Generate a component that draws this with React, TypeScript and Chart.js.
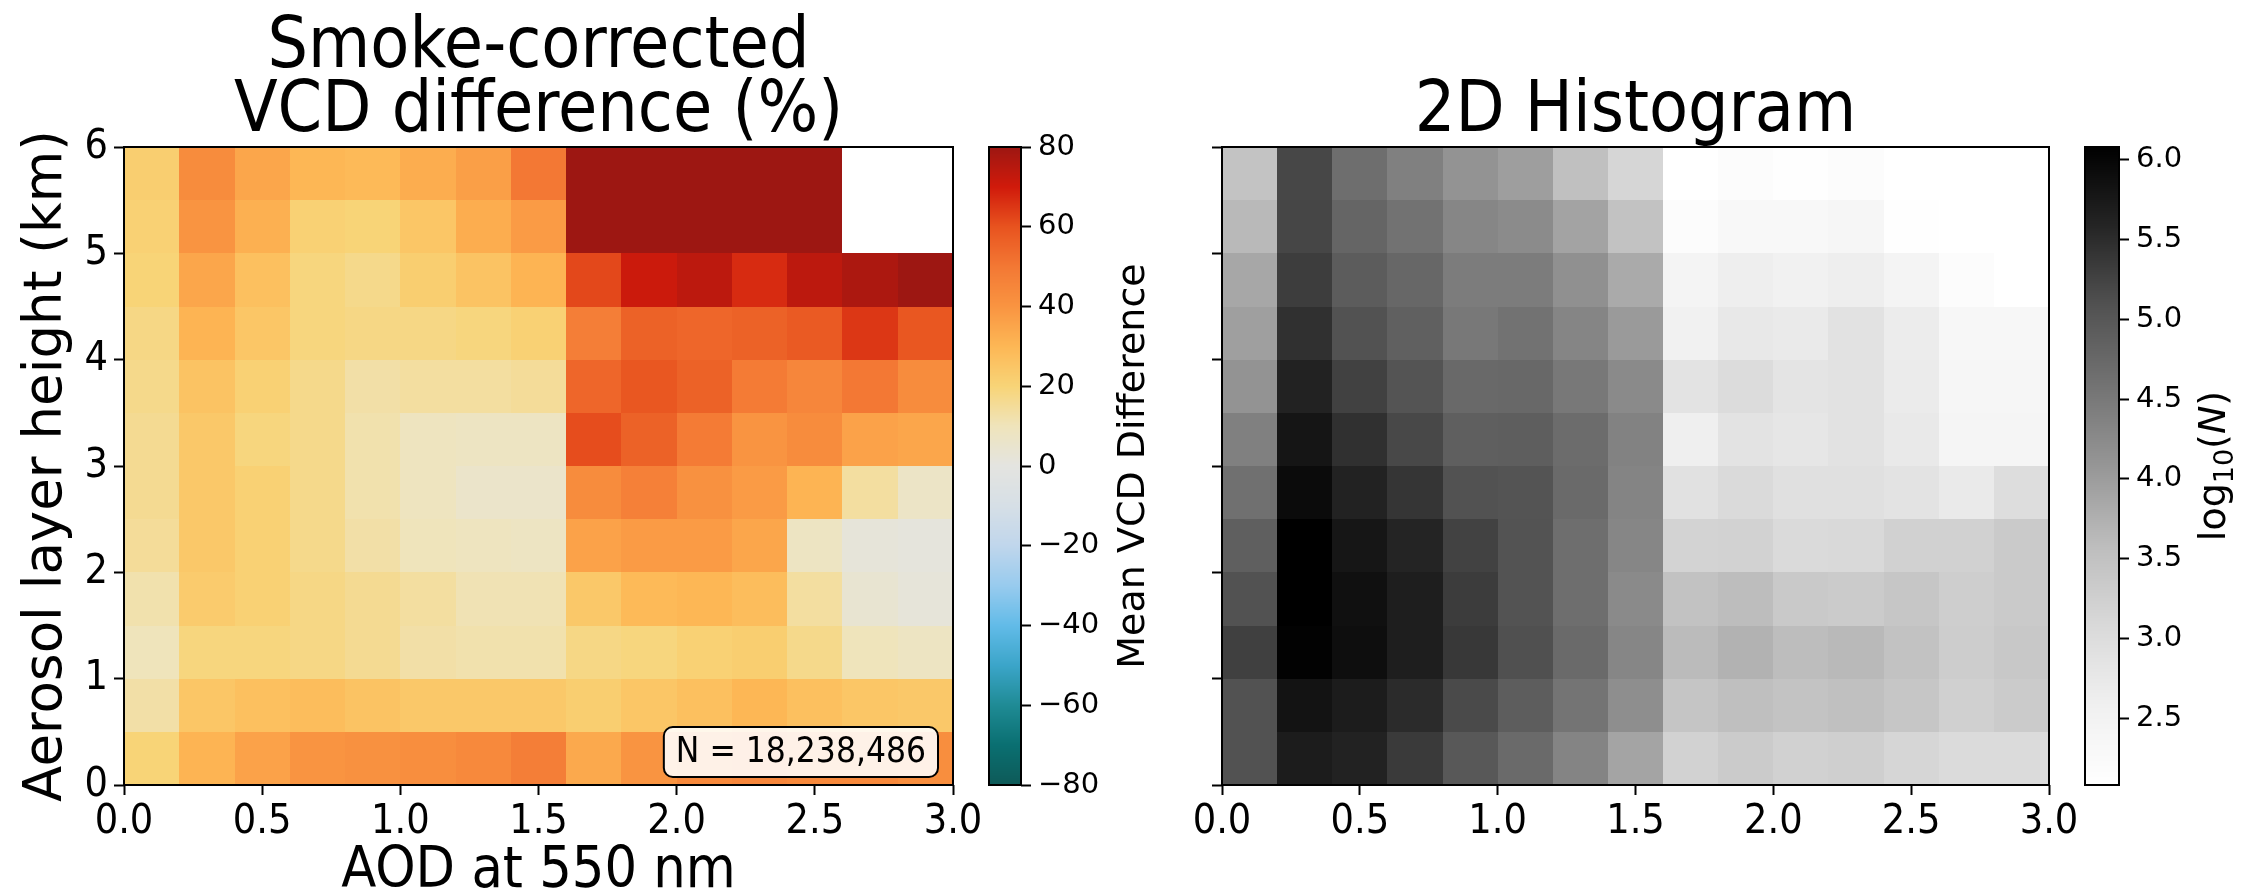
import React, { useEffect, useRef } from 'react';
import { Chart, registerables } from 'chart.js';

Chart.register(...registerables);

// ---------------- data ----------------
const X_EDGES = [0, 0.2, 0.4, 0.6, 0.8, 1.0, 1.2, 1.4, 1.6, 1.8, 2.0, 2.2, 2.4, 2.6, 2.8, 3.0];
const Y_EDGES = [0, 0.5, 1, 1.5, 2, 2.5, 3, 3.5, 4, 4.5, 5, 5.5, 6];
const X_TICKS = [0, 0.5, 1, 1.5, 2, 2.5, 3];
const Y_TICKS = [0, 1, 2, 3, 4, 5, 6];

// rows: bottom (0-0.5 km) to top (5.5-6 km); columns: AOD bins 0-0.2 ... 2.8-3.0
const VCD_DIFF: (number | null)[][] = [
  [20, 31, 36, 40, 41, 42, 44, 48, 34, 40, 44, 45, 44, 44, 42],
  [13, 25, 27, 28, 26, 24, 24, 24, 22, 25, 27, 30, 27, 25, 24],
  [10, 19, 19, 18, 16, 13, 12, 12, 18, 19, 21, 22, 17, 10, 8],
  [12, 23, 21, 18, 16, 14, 11, 11, 24, 29, 30, 28, 14, 4, 2],
  [15, 24, 21, 17, 13, 10, 9, 8, 36, 38, 38, 35, 8, 2, 1],
  [16, 24, 21, 17, 12, 9, 6, 6, 43, 47, 41, 38, 31, 14, 7],
  [16, 24, 19, 17, 12, 9, 8, 8, 61, 56, 49, 40, 43, 36, 35],
  [17, 26, 21, 17, 13, 14, 14, 15, 55, 59, 56, 49, 45, 50, 43],
  [18, 31, 25, 19, 18, 18, 19, 21, 48, 56, 55, 56, 58, 65, 59],
  [20, 35, 27, 19, 17, 22, 26, 31, 62, 71, 74, 67, 74, 77, 80],
  [21, 40, 32, 21, 20, 25, 33, 38, 86, 88, 87, 86, 87, null, null],
  [22, 43, 35, 30, 29, 33, 37, 50, 87, 88, 88, 87, 86, null, null],
];

const LOG10_N: (number | null)[][] = [
  [5.08, 5.70, 5.62, 5.35, 4.99, 4.72, 4.34, 3.90, 3.21, 3.33, 3.22, 3.26, 3.13, 3.03, 3.04],
  [5.08, 5.82, 5.70, 5.51, 5.17, 4.91, 4.57, 4.19, 3.44, 3.55, 3.47, 3.53, 3.42, 3.24, 3.33],
  [5.28, 6.05, 5.89, 5.67, 5.37, 5.10, 4.72, 4.31, 3.61, 3.72, 3.58, 3.63, 3.49, 3.29, 3.39],
  [5.08, 6.08, 5.86, 5.67, 5.32, 5.07, 4.66, 4.25, 3.49, 3.58, 3.37, 3.33, 3.42, 3.28, 3.35],
  [4.88, 6.08, 5.78, 5.59, 5.26, 5.07, 4.66, 4.31, 3.19, 3.21, 3.06, 3.08, 3.22, 3.22, 3.35],
  [4.63, 5.93, 5.62, 5.40, 5.08, 5.05, 4.72, 4.34, 2.91, 3.06, 2.93, 2.93, 2.86, 2.71, 2.99],
  [4.39, 5.80, 5.46, 5.19, 4.88, 4.90, 4.69, 4.37, 2.60, 2.86, 2.80, 2.88, 2.73, 2.41, 2.41],
  [4.12, 5.62, 5.27, 5.05, 4.73, 4.75, 4.51, 4.25, 2.86, 3.01, 2.84, 2.88, 2.69, 2.38, 2.38],
  [3.96, 5.46, 5.08, 4.87, 4.51, 4.60, 4.32, 4.03, 2.55, 2.75, 2.71, 2.88, 2.67, 2.35, 2.35],
  [3.86, 5.31, 4.93, 4.76, 4.45, 4.45, 4.17, 3.82, 2.45, 2.62, 2.55, 2.62, 2.45, 2.18, 2.08],
  [3.63, 5.21, 4.79, 4.59, 4.31, 4.24, 3.91, 3.49, 2.18, 2.31, 2.31, 2.38, 2.11, null, null],
  [3.47, 5.20, 4.66, 4.39, 4.12, 3.98, 3.53, 3.13, 2.08, 2.18, 2.11, 2.18, 2.08, null, null],
];

const DIFF_TICKS = [-80, -60, -40, -20, 0, 20, 40, 60, 80];
const DIFF_RANGE = [-80, 80];
const COUNT_TICKS = [2.5, 3.0, 3.5, 4.0, 4.5, 5.0, 5.5, 6.0];
const COUNT_RANGE = [2.08, 6.08];
const N_LABEL = 'N = 18,238,486';

const TITLE_LEFT = ['Smoke-corrected', 'VCD difference (%)'];
const TITLE_RIGHT = '2D Histogram';
const X_LABEL = 'AOD at 550 nm';
const Y_LABEL = 'Aerosol layer height (km)';
const CBAR_LEFT_LABEL = 'Mean VCD Difference';

// ---------------- colormaps ----------------
const DIFF_CMAP_VALUES = [-80, -70, -60, -50, -40, -30, -20, -10, 0, 10, 20, 30, 40, 50, 60, 70, 80];
const DIFF_CMAP_COLORS = [
  '#0e5a58', '#0a6f71', '#1f8b95', '#3ba5c9', '#62bbe8', '#98cbee', '#c0d6ec', '#d6dfe6',
  '#e4e4e0', '#efe4bb', '#f8d477', '#fdb755', '#f99441', '#f37834', '#e8531f', '#d01a0b', '#9d1712',
];
const GREYS_LEVELS = [255, 240, 217, 189, 150, 115, 82, 37, 0];

const COND = "'DejaVu Sans Condensed', 'Liberation Sans Narrow', 'DejaVu Sans', sans-serif";
const SANS = "'DejaVu Sans', 'Noto Sans', sans-serif";

function hexToRgb(h: string) {
  const n = parseInt(h.slice(1), 16);
  return [(n >> 16) & 255, (n >> 8) & 255, n & 255];
}
const DIFF_RGB = DIFF_CMAP_COLORS.map(hexToRgb);

function diffColor(v: number) {
  const vals = DIFF_CMAP_VALUES;
  if (v <= vals[0]) return `rgb(${DIFF_RGB[0].join(',')})`;
  if (v >= vals[vals.length - 1]) return `rgb(${DIFF_RGB[vals.length - 1].join(',')})`;
  let i = 0;
  while (v > vals[i + 1]) i++;
  const t = (v - vals[i]) / (vals[i + 1] - vals[i]);
  const a = DIFF_RGB[i], b = DIFF_RGB[i + 1];
  const c = a.map((av, k) => Math.round(av + (b[k] - av) * t));
  return `rgb(${c.join(',')})`;
}

function greyColor(v: number) {
  let t = (v - COUNT_RANGE[0]) / (COUNT_RANGE[1] - COUNT_RANGE[0]);
  t = Math.max(0, Math.min(1, t));
  const pos = t * (GREYS_LEVELS.length - 1);
  const i = Math.min(Math.floor(pos), GREYS_LEVELS.length - 2);
  const f = pos - i;
  const g = Math.round(GREYS_LEVELS[i] + (GREYS_LEVELS[i + 1] - GREYS_LEVELS[i]) * f);
  return `rgb(${g},${g},${g})`;
}

function buildCells(rows: (number | null)[][]) {
  const cells: any[] = [];
  rows.forEach((row, j) =>
    row.forEach((v, i) => {
      if (v === null) return;
      cells.push({
        x: (X_EDGES[i] + X_EDGES[i + 1]) / 2,
        y: (Y_EDGES[j] + Y_EDGES[j + 1]) / 2,
        x0: X_EDGES[i], x1: X_EDGES[i + 1], y0: Y_EDGES[j], y1: Y_EDGES[j + 1], v,
      });
    })
  );
  return cells;
}

function heatmapPlugin(colorFn: (v: number) => string, extra?: (chart: any) => void) {
  return {
    id: 'heatCells',
    beforeDatasetsDraw(chart: any) {
      const { ctx, scales: { x, y } } = chart;
      const cells = chart.data.datasets[0].data;
      ctx.save();
      cells.forEach((c: any) => {
        const px0 = Math.round(x.getPixelForValue(c.x0));
        const px1 = Math.round(x.getPixelForValue(c.x1));
        const py0 = Math.round(y.getPixelForValue(c.y0));
        const py1 = Math.round(y.getPixelForValue(c.y1));
        ctx.fillStyle = colorFn(c.v);
        ctx.fillRect(px0, py1, px1 - px0, py0 - py1);
      });
      ctx.restore();
    },
    afterDatasetsDraw(chart: any) {
      const { ctx, chartArea: a } = chart;
      ctx.save();
      ctx.strokeStyle = '#000';
      ctx.lineWidth = 2;
      ctx.strokeRect(a.left, a.top, a.right - a.left, a.bottom - a.top);
      ctx.restore();
      if (extra) extra(chart);
    },
  };
}

function drawNBox(chart: any) {
  const { ctx, chartArea: a } = chart;
  ctx.save();
  ctx.font = `35px ${COND}`;
  const tw = ctx.measureText(N_LABEL).width;
  const padX = 12;
  const h = 50;
  const w = tw + padX * 2;
  const right = a.right - 15;
  const bottom = a.bottom - 8;
  ctx.beginPath();
  ctx.roundRect(right - w, bottom - h, w, h, 9);
  ctx.fillStyle = 'rgba(255,255,255,0.88)';
  ctx.fill();
  ctx.lineWidth = 2;
  ctx.strokeStyle = '#000';
  ctx.stroke();
  ctx.fillStyle = '#000';
  ctx.textAlign = 'center';
  ctx.textBaseline = 'middle';
  ctx.fillText(N_LABEL, right - w / 2, bottom - h / 2 + 1);
  ctx.restore();
}

const tickGrid = {
  display: true,
  drawOnChartArea: false,
  drawTicks: true,
  tickLength: 10,
  tickWidth: 2,
  tickColor: '#000',
};

function makeHeatmap(canvas: HTMLCanvasElement, cfg: any) {
  return new Chart(canvas, {
    type: 'scatter',
    data: { datasets: [{ data: cfg.cells, pointRadius: 0, pointHoverRadius: 0 }] },
    options: {
      responsive: false,
      animation: false,
      devicePixelRatio: 1,
      events: [],
      layout: { padding: { left: 0, right: cfg.padRight, top: 0, bottom: 0 } },
      plugins: {
        legend: { display: false },
        tooltip: { enabled: false },
        title: {
          display: true,
          text: cfg.title,
          fullSize: false,
          color: '#000',
          font: { family: COND, size: 71, weight: 'normal', lineHeight: '64px' },
          padding: { top: cfg.titlePadTop, bottom: 2 },
        },
      },
      scales: {
        x: {
          type: 'linear',
          min: 0,
          max: 3,
          afterBuildTicks: (s: any) => { s.ticks = X_TICKS.map((v) => ({ value: v })); },
          afterFit: (s: any) => { s.height = 110; },
          grid: tickGrid,
          border: { display: false },
          ticks: {
            color: '#000',
            font: { family: COND, size: 41 },
            padding: 3,
            maxRotation: 0,
            autoSkip: false,
            callback: (v: any) => Number(v).toFixed(1),
          },
          title: {
            display: !!cfg.xTitle,
            text: cfg.xTitle || '',
            color: '#000',
            font: { family: COND, size: 57, lineHeight: 0.8 },
            padding: { top: 0, bottom: 0 },
          },
        },
        y: {
          type: 'linear',
          min: 0,
          max: 6,
          afterBuildTicks: (s: any) => { s.ticks = Y_TICKS.map((v) => ({ value: v })); },
          afterFit: (s: any) => { s.width = cfg.yWidth; },
          grid: tickGrid,
          border: { display: false },
          ticks: {
            display: cfg.showYLabels,
            color: '#000',
            font: { family: COND, size: 41 },
            padding: 6,
            autoSkip: false,
            callback: (v: any) => String(v),
          },
          title: {
            display: !!cfg.yTitle,
            text: cfg.yTitle || '',
            color: '#000',
            font: { family: SANS, size: 53, lineHeight: 1 },
            padding: { top: 21, bottom: 0 },
          },
        },
      },
    },
    plugins: [heatmapPlugin(cfg.colorFn, cfg.extra)],
  } as any);
}

function drawRotated(ctx: CanvasRenderingContext2D, cx: number, cy: number, fn: () => void) {
  ctx.save();
  ctx.translate(cx, cy);
  ctx.rotate(-Math.PI / 2);
  fn();
  ctx.restore();
}

function makeColorbar(canvas: HTMLCanvasElement, cfg: any) {
  const plugin = {
    id: 'cbarFill',
    beforeDatasetsDraw(chart: any) {
      const { ctx, chartArea: a, scales: { y } } = chart;
      ctx.save();
      for (let py = Math.floor(a.top); py < Math.ceil(a.bottom); py++) {
        ctx.fillStyle = cfg.colorFn(y.getValueForPixel(py + 0.5));
        ctx.fillRect(a.left, py, a.right - a.left, 1);
      }
      ctx.strokeStyle = '#000';
      ctx.lineWidth = 2;
      ctx.strokeRect(a.left, a.top, a.right - a.left, a.bottom - a.top);
      ctx.restore();
    },
    afterDraw(chart: any) {
      const { ctx, chartArea: a } = chart;
      const cy = (a.top + a.bottom) / 2;
      drawRotated(ctx, a.right + cfg.labelOffset, cy, () => cfg.drawLabel(ctx));
    },
  };
  return new Chart(canvas, {
    type: 'scatter',
    data: { datasets: [{ data: [], pointRadius: 0 }] },
    options: {
      responsive: false,
      animation: false,
      devicePixelRatio: 1,
      events: [],
      layout: { padding: { left: cfg.padLeft, right: 0, top: 147, bottom: 110 } },
      plugins: { legend: { display: false }, tooltip: { enabled: false }, title: { display: false } },
      scales: {
        x: { display: false, min: 0, max: 1 },
        y: {
          type: 'linear',
          position: 'right',
          min: cfg.range[0],
          max: cfg.range[1],
          afterBuildTicks: (s: any) => { s.ticks = cfg.ticks.map((v: number) => ({ value: v })); },
          afterFit: (s: any) => { s.width = cfg.yWidth; },
          grid: tickGrid,
          border: { display: false },
          ticks: {
            color: '#000',
            font: { family: SANS, size: 29 },
            padding: 7,
            autoSkip: false,
            callback: cfg.fmt,
          },
        },
      },
    },
    plugins: [plugin],
  } as any);
}

function ChartCanvas({ left, width, make }: { left: number; width: number; make: (c: HTMLCanvasElement) => Chart }) {
  const ref = useRef<HTMLCanvasElement>(null);
  useEffect(() => {
    const chart = make(ref.current as HTMLCanvasElement);
    return () => chart.destroy();
  }, []);
  return (
    <canvas
      ref={ref}
      width={width}
      height={895}
      style={{ position: 'absolute', left, top: 0, width, height: 895 }}
    />
  );
}

export default function App() {
  const diffCells = buildCells(VCD_DIFF);
  const countCells = buildCells(LOG10_N);
  return (
    <div style={{ position: 'absolute', left: 0, top: 0, width: 2255, height: 895, background: '#fff', overflow: 'hidden' }}>
      <ChartCanvas
        left={0}
        width={990}
        make={(c) =>
          makeHeatmap(c, {
            cells: diffCells,
            colorFn: diffColor,
            title: TITLE_LEFT,
            titlePadTop: 17,
            padRight: 990 - 953,
            yWidth: 124,
            showYLabels: true,
            xTitle: X_LABEL,
            yTitle: Y_LABEL,
            extra: drawNBox,
          })
        }
      />
      <ChartCanvas
        left={960}
        width={240}
        make={(c) =>
          makeColorbar(c, {
            range: DIFF_RANGE,
            ticks: DIFF_TICKS,
            colorFn: diffColor,
            padLeft: 29,
            yWidth: 240 - 29 - 32,
            fmt: (v: any) => (Number(v) < 0 ? '\u2212' + Math.abs(Number(v)) : String(v)),
            labelOffset: 113,
            drawLabel: (ctx: CanvasRenderingContext2D) => {
              ctx.font = `38px ${SANS}`;
              ctx.fillStyle = '#000';
              ctx.textAlign = 'center';
              ctx.textBaseline = 'middle';
              ctx.fillText(CBAR_LEFT_LABEL, 0, 0);
            },
          })
        }
      />
      <ChartCanvas
        left={1100}
        width={990}
        make={(c) =>
          makeHeatmap(c, {
            cells: countCells,
            colorFn: greyColor,
            title: TITLE_RIGHT,
            titlePadTop: 81,
            padRight: 1100 + 990 - 2049,
            yWidth: 122,
            showYLabels: false,
          })
        }
      />
      <ChartCanvas
        left={2060}
        width={195}
        make={(c) =>
          makeColorbar(c, {
            range: COUNT_RANGE,
            ticks: COUNT_TICKS,
            colorFn: greyColor,
            padLeft: 25,
            yWidth: 195 - 25 - 34,
            fmt: (v: any) => Number(v).toFixed(1),
            labelOffset: 95,
            drawLabel: (ctx: CanvasRenderingContext2D) => {
              const parts = [
                { t: 'log', f: `38px ${SANS}`, dy: 0 },
                { t: '10', f: `27px ${SANS}`, dy: 8 },
                { t: '(', f: `38px ${SANS}`, dy: 0 },
                { t: 'N', f: `italic 38px ${SANS}`, dy: 0 },
                { t: ')', f: `38px ${SANS}`, dy: 0 },
              ];
              ctx.fillStyle = '#000';
              ctx.textAlign = 'left';
              ctx.textBaseline = 'alphabetic';
              const widths = parts.map((p) => { ctx.font = p.f; return ctx.measureText(p.t).width; });
              const total = widths.reduce((s, w) => s + w, 0);
              let xx = -total / 2;
              parts.forEach((p, i) => {
                ctx.font = p.f;
                ctx.fillText(p.t, xx, 11 + p.dy);
                xx += widths[i];
              });
            },
          })
        }
      />
    </div>
  );
}
